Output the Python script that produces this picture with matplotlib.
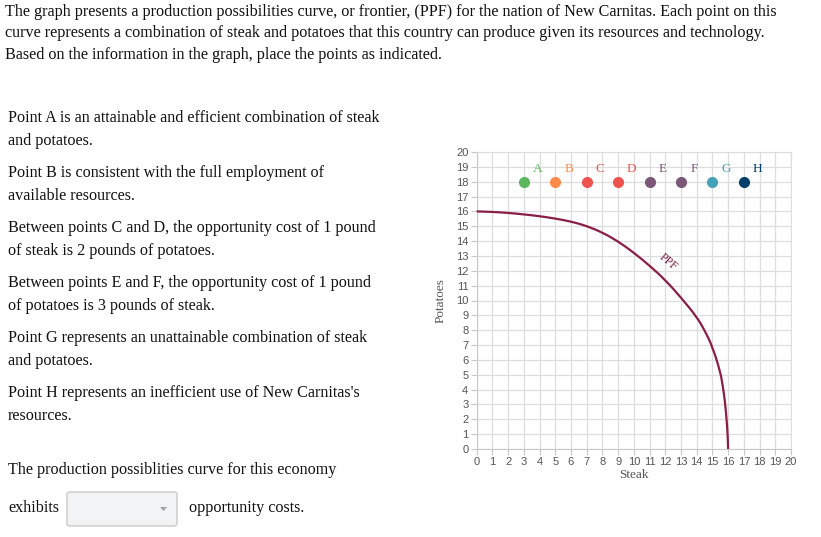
import matplotlib
matplotlib.use("Agg")
import matplotlib.pyplot as plt
from matplotlib.patches import FancyBboxPatch, Polygon, PathPatch
from matplotlib.path import Path

W, H = 821, 537
fig = plt.figure(figsize=(W / 100, H / 100), dpi=100)

# ---- data ----
ppf_steak = [0, 1, 2, 3, 4, 5, 6, 7, 8, 9, 10, 11, 12, 13, 14, 14.5, 15, 15.5, 15.65, 15.8, 15.9, 15.97, 16]
ppf_potatoes = [16, 15.97, 15.9, 15.8, 15.68, 15.52, 15.32, 15.02, 14.58, 13.98, 13.22, 12.35, 11.38, 10.2,
                8.9, 8.0, 6.9, 5.2, 4.3, 3.2, 2.0, 1.0, 0]
point_labels = ["A", "B", "C", "D", "E", "F", "G", "H"]
point_steak = [3, 5, 7, 9, 11, 13, 15, 17]
point_potatoes = [18, 18, 18, 18, 18, 18, 18, 18]
point_colors = ["#5cb85c", "#ff8c4a", "#ef5350", "#ef5350", "#7b5878", "#7b5878", "#44a3b8", "#003f6b"]
x_ticks = list(range(0, 21))
y_ticks = list(range(0, 21))

SERIF = ["Liberation Serif", "DejaVu Serif"]
SANS = ["Liberation Sans", "DejaVu Sans"]


def ftext(x, y, s, **kw):
    kw.setdefault("family", SERIF)
    kw.setdefault("fontsize", 11.6)
    kw.setdefault("color", "#111111")
    kw.setdefault("va", "center")
    fig.text(x / W, 1 - y / H, s, **kw)


# ---- text ----
top_lines = [
    (12, "The graph presents a production possibilities curve, or frontier, (PPF) for the nation of New Carnitas. Each point on this"),
    (33, "curve represents a combination of steak and potatoes that this country can produce given its resources and technology."),
    (55, "Based on the information in the graph, place the points as indicated."),
]
for y, s in top_lines:
    ftext(5, y, s)

left_lines = [
    (118, "Point A is an attainable and efficient combination of steak"),
    (141, "and potatoes."),
    (173, "Point B is consistent with the full employment of"),
    (196, "available resources."),
    (228, "Between points C and D, the opportunity cost of 1 pound"),
    (251, "of steak is 2 pounds of potatoes."),
    (283, "Between points E and F, the opportunity cost of 1 pound"),
    (306, "of potatoes is 3 pounds of steak."),
    (338, "Point G represents an unattainable combination of steak"),
    (361, "and potatoes."),
    (393, "Point H represents an inefficient use of New Carnitas's"),
    (416, "resources."),
    (470, "The production possiblities curve for this economy"),
]
for y, s in left_lines:
    ftext(8, y, s)
ftext(8, 508, "exhibits")
ftext(189, 508, "opportunity costs.")

# dropdown box
box = FancyBboxPatch((67 / W, 1 - 526 / H), 110 / W, 34 / H,
                     boxstyle="round,pad=0,rounding_size=0.004",
                     transform=fig.transFigure, facecolor="#f2f3f5",
                     edgecolor="#c9c9c9", linewidth=1.0)
fig.patches.append(box)
tri = Polygon([(160 / W, 1 - 507 / H), (167 / W, 1 - 507 / H), (163.5 / W, 1 - 511 / H)],
              closed=True, transform=fig.transFigure, facecolor="#a0a0a0", edgecolor="none")
fig.patches.append(tri)

# ---- chart ----
ax = fig.add_axes([476.7 / W, 1 - 449 / H, (791 - 476.7) / W, (449 - 152) / H])
ax.set_xlim(0, 20)
ax.set_ylim(0, 20)
ax.set_xticks(x_ticks)
ax.set_yticks(y_ticks)
ax.grid(True, color="#dddddd", linewidth=0.9)
ax.set_axisbelow(True)
for side in ["top", "right"]:
    ax.spines[side].set_color("#dddddd")
for side in ["left", "bottom"]:
    ax.spines[side].set_color("#c8c8c8")
ax.tick_params(colors="#c8c8c8", labelcolor="#555555", labelsize=8, length=4, width=0.8, pad=2)
for lab in ax.get_xticklabels() + ax.get_yticklabels():
    lab.set_family(SANS)

# smooth PPF: quadratic Bezier segments, data points as control points
verts = [(ppf_steak[0], ppf_potatoes[0])]
codes = [Path.MOVETO]
n = len(ppf_steak)
for i in range(1, n - 1):
    cx, cy = ppf_steak[i], ppf_potatoes[i]
    if i < n - 2:
        ex = (ppf_steak[i] + ppf_steak[i + 1]) / 2
        ey = (ppf_potatoes[i] + ppf_potatoes[i + 1]) / 2
    else:
        ex, ey = ppf_steak[i + 1], ppf_potatoes[i + 1]
    verts += [(cx, cy), (ex, ey)]
    codes += [Path.CURVE3, Path.CURVE3]
ax.add_patch(PathPatch(Path(verts, codes), facecolor="none", edgecolor="#8b1e46",
                       linewidth=1.6, clip_on=False, zorder=3))
ax.text(12.2, 12.6, "PPF", rotation=-40, color="#7a1c3f", fontsize=8.5, family=SERIF,
        ha="center", va="center")

for lbl, xs, ys, c in zip(point_labels, point_steak, point_potatoes, point_colors):
    ax.plot([xs], [ys], "o", color=c, markersize=7, zorder=4)
    ax.text(xs + 0.85, ys + 0.85, lbl, color=c, fontsize=9.5, family=SERIF, ha="center", va="center")

ax.set_xlabel("Steak", family=SERIF, fontsize=9.5, color="#555555", labelpad=1)
ax.set_ylabel("Potatoes", family=SERIF, fontsize=9.5, color="#555555", labelpad=7)

fig.savefig("out.png", dpi=100)
